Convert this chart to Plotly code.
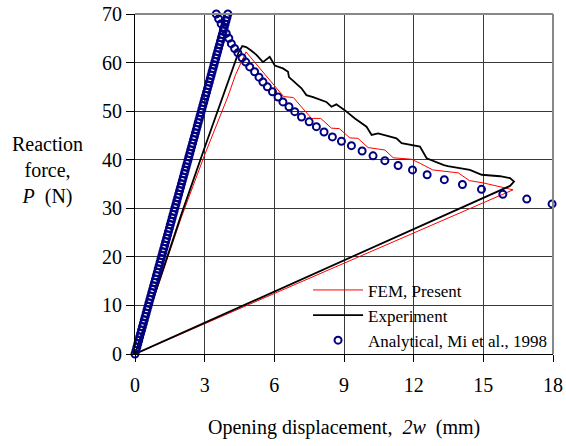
import plotly.graph_objects as go

# ---------------- data ----------------
fem_x = [0, 1.0, 2.0, 3.0, 4.0, 4.33, 4.78, 6.40, 6.82, 7.60, 8.00, 8.46, 8.80, 9.25, 9.60,
         10.04, 10.76, 11.12, 11.90, 12.30, 12.82, 13.92, 14.40, 15.02, 16.28, 0]
fem_y = [0, 14.3, 28.2, 41.0, 53.0, 57.5, 62.2, 53.0, 52.8, 48.5, 48.5, 46.5, 46.4, 44.5, 44.4,
         42.5, 42.0, 40.4, 40.1, 39.2, 37.9, 37.3, 35.7, 35.2, 33.8, 0]

exp_x = [0, 1.0, 2.0, 3.0, 4.0, 4.2, 4.45, 4.62, 4.79, 5.00, 5.23, 5.51, 5.80, 6.02, 6.37, 6.59,
         6.63, 7.17, 7.38, 7.67, 8.24, 8.46, 8.67, 9.03, 9.47, 9.97, 10.19, 10.47, 11.26, 11.48,
         11.91, 12.27, 12.56, 12.85, 13.30, 13.47, 14.42, 14.93, 15.72, 16.15, 16.32, 16.15, 0]
exp_y = [0, 14.5, 28.8, 42.5, 56.0, 58.3, 62.0, 63.4, 63.2, 62.5, 61.6, 60.1, 61.2, 59.4, 58.8, 58.1,
         57.0, 54.7, 53.3, 52.9, 51.9, 50.9, 51.4, 50.2, 48.5, 46.8, 45.1, 45.4, 44.4, 43.4,
         43.0, 42.7, 40.3, 39.7, 38.9, 38.7, 37.9, 36.9, 36.6, 36.2, 35.5, 34.6, 0]

ana_load_x = [0.00, 0.04, 0.08, 0.12, 0.16, 0.20, 0.24, 0.28, 0.32, 0.36, 0.40, 0.44, 0.48, 0.52,
              0.56, 0.60, 0.64, 0.68, 0.72, 0.76, 0.80, 0.84, 0.88, 0.92, 0.96, 1.00, 1.04, 1.08,
              1.12, 1.16, 1.20, 1.24, 1.28, 1.32, 1.36, 1.40, 1.44, 1.48, 1.52, 1.56, 1.60, 1.64,
              1.68, 1.72, 1.76, 1.80, 1.84, 1.88, 1.92, 1.96, 2.00, 2.04, 2.08, 2.12, 2.16, 2.20,
              2.24, 2.28, 2.32, 2.36, 2.40, 2.44, 2.48, 2.52, 2.56, 2.60, 2.64, 2.68, 2.72, 2.76,
              2.80, 2.84, 2.88, 2.92, 2.96, 3.00, 3.04, 3.08, 3.12, 3.16, 3.20, 3.24, 3.28, 3.32,
              3.36, 3.40, 3.44, 3.48, 3.52, 3.56, 3.60, 3.64, 3.68, 3.72, 3.76, 3.80, 3.84, 3.88,
              3.92, 3.96, 4.00]
ana_load_y = [0.0, 0.7, 1.4, 2.1, 2.8, 3.5, 4.2, 4.9, 5.6, 6.3, 7.0, 7.7, 8.4, 9.1, 9.8, 10.5,
              11.2, 11.9, 12.6, 13.3, 14.0, 14.7, 15.4, 16.1, 16.8, 17.5, 18.2, 18.9, 19.6, 20.3,
              21.0, 21.7, 22.4, 23.1, 23.8, 24.5, 25.2, 25.9, 26.6, 27.3, 28.0, 28.7, 29.4, 30.1,
              30.8, 31.5, 32.2, 32.9, 33.6, 34.3, 35.0, 35.7, 36.4, 37.1, 37.8, 38.5, 39.2, 39.9,
              40.6, 41.3, 42.0, 42.7, 43.4, 44.1, 44.8, 45.5, 46.2, 46.9, 47.6, 48.3, 49.0, 49.7,
              50.4, 51.1, 51.8, 52.5, 53.2, 53.9, 54.6, 55.3, 56.0, 56.7, 57.4, 58.1, 58.8, 59.5,
              60.2, 60.9, 61.6, 62.3, 63.0, 63.7, 64.4, 65.1, 65.8, 66.5, 67.2, 67.9, 68.6, 69.3,
              70.0]

ana_soft_x = [3.50, 3.60, 3.71, 3.82, 3.93, 4.04, 4.15, 4.29, 4.43, 4.61, 4.77, 4.94, 5.15, 5.34,
              5.51, 5.70, 5.92, 6.16, 6.37, 6.63, 6.88, 7.17, 7.50, 7.81, 8.14, 8.50, 8.89, 9.32,
              9.78, 10.25, 10.76, 11.33, 11.95, 12.58, 13.32, 14.10, 14.92, 15.84, 16.87, 17.96]
ana_soft_y = [70.0, 69.0, 68.0, 67.0, 66.0, 65.0, 63.9, 62.9, 62.0, 61.0, 60.1, 59.1, 58.1, 57.0,
              56.0, 55.0, 54.0, 52.9, 51.9, 50.9, 49.9, 48.8, 47.8, 46.8, 45.7, 44.7, 43.8, 42.9,
              41.8, 40.8, 39.8, 38.8, 37.9, 36.9, 35.9, 34.9, 33.9, 32.9, 31.9, 30.9]

x_ticks = [0, 3, 6, 9, 12, 15, 18]
y_ticks = [0, 10, 20, 30, 40, 50, 60, 70]

FONT = "Liberation Serif"

fig = go.Figure()
fig.add_trace(go.Scatter(x=fem_x, y=fem_y, mode="lines", name="FEM, Present",
                         line=dict(color="#ff0000", width=1)))
fig.add_trace(go.Scatter(x=exp_x, y=exp_y, mode="lines", name="Experiment",
                         line=dict(color="#000000", width=1.8)))
fig.add_trace(go.Scatter(x=ana_load_x + ana_soft_x, y=ana_load_y + ana_soft_y, mode="markers",
                         name="Analytical, Mi et al., 1998", cliponaxis=False,
                         marker=dict(symbol="circle-open", size=7, color="#000080",
                                     line=dict(width=2, color="#000080"))))

axis_common = dict(showline=True, linecolor="#000", linewidth=1.2, ticks="outside",
                   tickcolor="#000", tickfont=dict(family=FONT, size=20, color="#000"),
                   showgrid=True, gridcolor="#3a3a3a", gridwidth=1, zeroline=False,
                   automargin=False, ticklabeloverflow="allow")

fig.update_xaxes(range=[0, 18], tickvals=x_ticks, ticklen=7, ticklabelstandoff=6, **axis_common)
fig.update_yaxes(range=[0, 70], tickvals=y_ticks, ticklen=8, **axis_common)

# white legend panel hiding the grid (drawn between grid and traces)
fig.add_shape(type="rect", xref="paper", yref="paper", x0=0.415, x1=0.997, y0=0.004, y1=0.225,
              fillcolor="white", line=dict(width=0), layer="between")

# top / right frame
fig.add_shape(type="line", xref="paper", yref="paper", x0=0, x1=1, y0=1, y1=1,
              line=dict(color="#888", width=2), layer="above")
fig.add_shape(type="line", xref="paper", yref="paper", x0=1, x1=1, y0=0, y1=1,
              line=dict(color="#888", width=2), layer="above")

fig.add_annotation(xref="paper", yref="paper", x=-0.21, y=0.54, xanchor="center", yanchor="middle",
                   text="Reaction<br>force,<br><i>P</i>  (N)", showarrow=False, align="center",
                   font=dict(family=FONT, size=20, color="#000"))
fig.add_annotation(xref="paper", yref="paper", x=0.5, y=-0.215, xanchor="center", yanchor="middle",
                   text="Opening displacement,&nbsp; <i>2w</i>&nbsp; (mm)", showarrow=False,
                   font=dict(family=FONT, size=20, color="#000"))

fig.update_layout(
    width=566, height=446, autosize=False,
    margin=dict(l=135, r=13, t=14, b=92),
    paper_bgcolor="white", plot_bgcolor="white",
    showlegend=True,
    font=dict(family=FONT),
    legend=dict(x=0.414, y=0.24, xanchor="left", yanchor="top", bgcolor="rgba(0,0,0,0)",
                borderwidth=0, font=dict(family=FONT, size=17, color="#000"),
                itemwidth=50, tracegroupgap=0),
)

fig.write_html(
    "out.html",
    config={"displayModeBar": False, "responsive": False},
    post_script=("document.body.style.margin='0';document.body.style.overflow='hidden';"
                 "Plotly.relayout(document.getElementById('{plot_id}'),{width:566,height:446});"),
)
